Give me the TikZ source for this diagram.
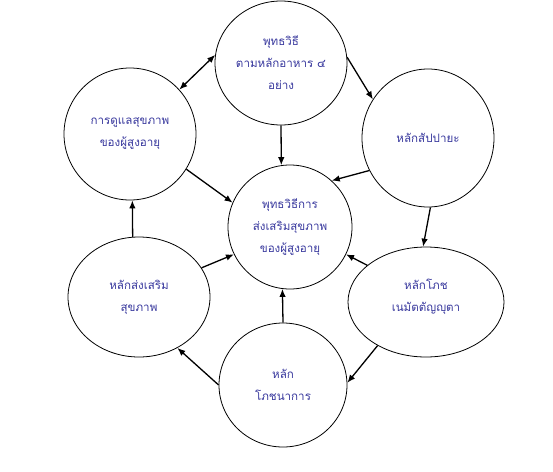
\documentclass[tikz,border=0pt]{standalone}
\usepackage{fontspec}
\newfontfamily\thaifont[Script=Thai]{Loma}
\usetikzlibrary{shapes.geometric,arrows.meta}
\definecolor{txtblue}{HTML}{3A3A9E}
\begin{document}
\begin{tikzpicture}[x=1pt,y=-1pt,
  bub/.style={draw=black,line width=0.8pt,ellipse,inner sep=0pt,align=center,
    font=\thaifont\fontsize{11.6}{22}\selectfont,text=txtblue},
  conn/.style={line width=1.3pt,-{Latex[length=8pt,width=6.5pt]}},
  conn2/.style={line width=1.3pt,{Latex[length=8pt,width=6.5pt]}-{Latex[length=8pt,width=6.5pt]}}]
\useasboundingbox (0,0) rectangle (553,471);
\node[bub,minimum width=132pt,minimum height=124pt] (T) at (281,63) {พุทธวิธี\\ตามหลักอาหาร ๔\\อย่าง};
\node[bub,minimum width=132pt,minimum height=132pt] (LT) at (130,134) {การดูแลสุขภาพ\\ของผู้สูงอายุ};
\node[bub,minimum width=132pt,minimum height=138pt] (RT) at (428,138) {หลักสัปปายะ};
\node[bub,minimum width=124pt,minimum height=124pt] (C) at (290,227) {พุทธวิธีการ\\ส่งเสริมสุขภาพ\\ของผู้สูงอายุ};
\node[bub,minimum width=142pt,minimum height=120pt] (LB) at (139,297) {หลักส่งเสริม\\สุขภาพ};
\node[bub,minimum width=156pt,minimum height=110pt] (RB) at (426,302) {หลักโภช\\เนมัตตัญญุตา\\[-8pt]};
\node[bub,minimum width=128pt,minimum height=124pt] (B) at (283,385) {หลัก\\โภชนาการ};
\draw[conn2] (LT.42) -- (T.173);
\draw[conn] (T.5) -- (RT.145);
\draw[conn] (T.south) -- (C.98);
\draw[conn] (RT.209) -- (C.48);
\draw[conn] (RT.272) -- (RB.93);
\draw[conn] (RB.148) -- (C.334);
\draw[conn] (RB.222) -- (B.2);
\draw[conn] (B.90) -- (C.263);
\draw[conn] (B.180) -- (LB.307);
\draw[conn] (LB.25) -- (C.206);
\draw[conn] (LB.96) -- (LT.272);
\draw[conn] (LT.328) -- (C.157);
\end{tikzpicture}
\end{document}
